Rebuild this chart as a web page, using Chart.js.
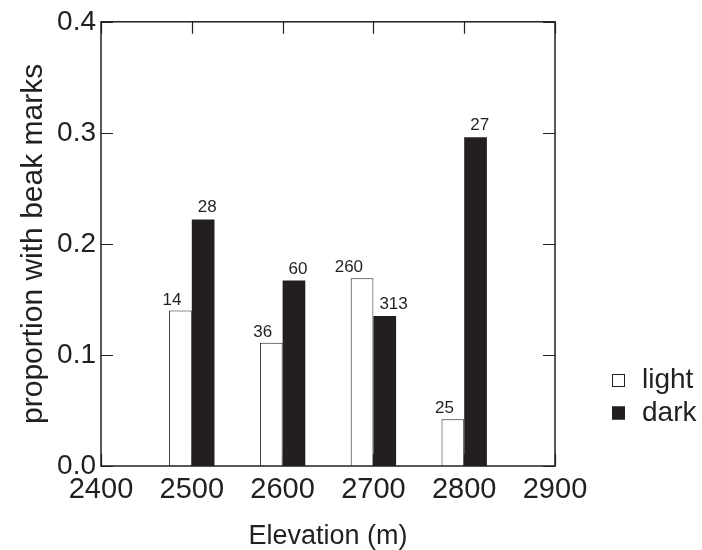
<!DOCTYPE html>
<html>
<head>
<meta charset="utf-8">
<script src="https://cdn.jsdelivr.net/npm/chart.js@4/dist/chart.umd.min.js"></script>
<style>
  body { margin: 0; background: #fff; }
  canvas { display: block; }
</style>
</head>
<body>
<canvas id="chart" width="702" height="550"></canvas>
<script>
// values
const elevations = [2500, 2600, 2700, 2800];
const lightValues = [0.140, 0.111, 0.169, 0.042];
const darkValues = [0.222, 0.167, 0.135, 0.296];
const lightCounts = [14, 36, 260, 25];
const darkCounts = [28, 60, 313, 27];
const xTicks = [2400, 2500, 2600, 2700, 2800, 2900];
const yTicks = [0.0, 0.1, 0.2, 0.3, 0.4];
const seriesNames = ['light', 'dark'];

const ink = '#231f20';
const font = '"Liberation Sans", Arial, Helvetica, sans-serif';

// bar labels (sample sizes), inward ticks, frame and legend
const extras = {
  id: 'extras',
  afterDatasetsDraw(chart) {
    const ctx = chart.ctx;
    const counts = [lightCounts, darkCounts];
    ctx.save();
    ctx.fillStyle = ink;
    ctx.font = '17px ' + font;
    ctx.textBaseline = 'alphabetic';
    chart.data.datasets.forEach((ds, di) => {
      chart.getDatasetMeta(di).data.forEach((bar, i) => {
        if (di === 0) {
          ctx.textAlign = 'right';
          ctx.fillText(counts[di][i], bar.x + 1, bar.y - 6);
        } else {
          ctx.textAlign = 'left';
          ctx.fillText(counts[di][i], bar.x - bar.width / 2 + 6, bar.y - 7);
        }
      });
    });
    ctx.restore();
  },
  afterDraw(chart) {
    const ctx = chart.ctx;
    const a = chart.chartArea;
    const xs = chart.scales.x, ys = chart.scales.y;
    const tl = 12;
    ctx.save();
    ctx.strokeStyle = ink;
    ctx.lineWidth = 1.2;
    ctx.beginPath();
    xTicks.forEach(v => {
      const px = Math.round(xs.getPixelForValue(v)) + 0.5;
      ctx.moveTo(px, a.bottom); ctx.lineTo(px, a.bottom - tl);
      ctx.moveTo(px, a.top); ctx.lineTo(px, a.top + tl);
    });
    yTicks.forEach(v => {
      const py = Math.round(ys.getPixelForValue(v)) + 0.5;
      ctx.moveTo(a.left, py); ctx.lineTo(a.left + tl, py);
      ctx.moveTo(a.right, py); ctx.lineTo(a.right - tl, py);
    });
    ctx.stroke();
    ctx.lineWidth = 1.5;
    ctx.strokeRect(a.left, a.top, a.right - a.left, a.bottom - a.top);

    // legend
    ctx.font = '28px ' + font;
    ctx.textAlign = 'left';
    ctx.textBaseline = 'alphabetic';
    chart.data.datasets.forEach((ds, di) => {
      const bx = a.right + 57;
      const by = a.bottom - 92 + di * 32.5;
      ctx.fillStyle = ds.backgroundColor;
      ctx.fillRect(bx, by, 13, 13);
      ctx.lineWidth = 1;
      ctx.strokeStyle = ink;
      ctx.strokeRect(bx + 0.5, by + 0.5, 12, 12);
      ctx.fillStyle = ink;
      ctx.fillText(ds.label, bx + 30, by + 14);
    });
    ctx.restore();
  }
};

new Chart(document.getElementById('chart'), {
  type: 'bar',
  data: {
    datasets: [
      {
        label: seriesNames[0],
        data: elevations.map((e, i) => ({ x: e, y: lightValues[i] })),
        backgroundColor: '#ffffff',
        borderColor: ink,
        borderWidth: 1
      },
      {
        label: seriesNames[1],
        data: elevations.map((e, i) => ({ x: e, y: darkValues[i] })),
        backgroundColor: ink,
        borderColor: ink,
        borderWidth: 0
      }
    ]
  },
  options: {
    responsive: false,
    animation: false,
    devicePixelRatio: 1,
    categoryPercentage: 0.5,
    barPercentage: 1.0,
    layout: { padding: { top: 20, right: 147, left: 0, bottom: 0 } },
    plugins: {
      legend: { display: false },
      tooltip: { enabled: false }
    },
    scales: {
      x: {
        type: 'linear',
        offset: false,
        min: 2400,
        max: 2900,
        afterBuildTicks: s => { s.ticks = xTicks.map(v => ({ value: v })); },
        afterFit: s => { s.height = 84; },
        grid: { display: false, drawTicks: false, offset: false },
        border: { display: false },
        ticks: {
          padding: 7,
          maxRotation: 0,
          color: ink,
          font: { family: font, size: 29 },
          callback: v => String(v)
        },
        title: {
          display: true,
          text: 'Elevation (m)',
          color: ink,
          font: { family: font, size: 27 },
          padding: { top: 0, bottom: -3 }
        }
      },
      y: {
        min: 0,
        max: 0.4,
        afterBuildTicks: s => { s.ticks = yTicks.map(v => ({ value: v })); },
        afterFit: s => { s.width = 101; },
        grid: { display: false, drawTicks: false },
        border: { display: false },
        ticks: {
          padding: 5,
          color: ink,
          font: { family: font, size: 28 },
          callback: v => v.toFixed(1)
        },
        title: {
          display: true,
          text: 'proportion with beak marks',
          color: ink,
          font: { family: font, size: 30 },
          padding: { top: 16, bottom: 0 }
        }
      }
    }
  },
  plugins: [extras]
});
</script>
</body>
</html>
